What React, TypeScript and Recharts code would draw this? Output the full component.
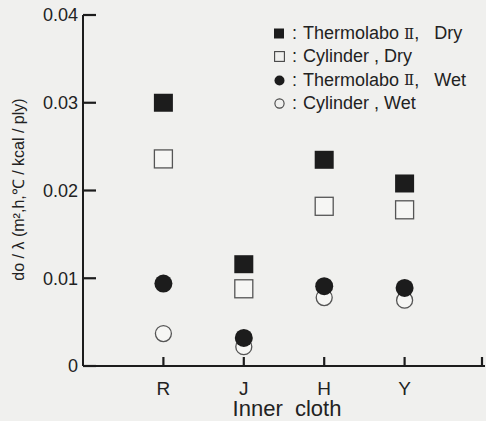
import React from "react";
import { ScatterChart, Scatter, XAxis, YAxis, Legend } from "recharts";

const categories = ["R", "J", "H", "Y"];
const thermolaboDry = [0.03, 0.0116, 0.0235, 0.0208];
const cylinderDry = [0.0236, 0.0088, 0.0182, 0.0178];
const thermolaboWet = [0.0094, 0.0032, 0.0091, 0.0089];
const cylinderWet = [0.0037, 0.0022, 0.0078, 0.0075];
const yTicks = [0, 0.01, 0.02, 0.03, 0.04];
const xTicks = [1, 2, 3, 4, 5];

const INK = "#1c1c1c";
const FONT = "'Liberation Sans', Arial, sans-serif";

const toPoints = (vals: number[]) => vals.map((v, i) => ({ x: i + 1, y: v }));

const series = [
  { name: "Cylinder, Wet", label: ["Cylinder , Wet"], marker: "openCircle", data: cylinderWet },
  { name: "Thermolabo Ⅱ, Wet", label: ["Thermolabo ", "Ⅱ", ",   Wet"], marker: "circle", data: thermolaboWet },
  { name: "Cylinder, Dry", label: ["Cylinder , Dry"], marker: "openSquare", data: cylinderDry },
  { name: "Thermolabo Ⅱ, Dry", label: ["Thermolabo ", "Ⅱ", ",   Dry"], marker: "square", data: thermolaboDry },
];
const legendOrder = ["square", "openSquare", "circle", "openCircle"];

const drawMarker = (kind: string) => (p: any) => {
  const { cx, cy } = p;
  if (kind === "square")
    return <rect x={cx - 9.5} y={cy - 9} width={19} height={18} fill={INK} />;
  if (kind === "openSquare")
    return <rect x={cx - 9} y={cy - 9} width={18} height={18} fill="#f6f6f4" stroke="#555" strokeWidth={1.3} />;
  if (kind === "circle") return <circle cx={cx} cy={cy} r={9} fill={INK} />;
  return <circle cx={cx} cy={cy} r={8} fill="#f6f6f4" stroke="#555" strokeWidth={1.3} />;
};

const LegendIcon = ({ kind }: { kind: string }) => (
  <svg width={11} height={11} style={{ marginRight: 7, flex: "none" }}>
    {kind === "square" && <rect x={0} y={0.5} width={10} height={10} fill={INK} />}
    {kind === "openSquare" && <rect x={0.6} y={0.6} width={9.8} height={9.8} fill="none" stroke="#444" strokeWidth={1.1} />}
    {kind === "circle" && <circle cx={5.5} cy={5.5} r={5} fill={INK} />}
    {kind === "openCircle" && <circle cx={5.5} cy={5.5} r={4.6} fill="none" stroke="#444" strokeWidth={1.1} />}
  </svg>
);

const renderLegend = () => (
  <div style={{ fontFamily: FONT, fontSize: 18, color: "#222" }}>
    {legendOrder.map((k) => {
      const s = series.find((d) => d.marker === k)!;
      return (
        <div key={k} style={{ display: "flex", alignItems: "center", height: 23.3, whiteSpace: "pre" }}>
          <LegendIcon kind={k} />
          <span style={{ marginRight: 6 }}>:</span>
          {s.label.map((part, i) =>
            part === "Ⅱ" ? (
              <span key={i} style={{ fontFamily: "'DejaVu Serif', serif", fontSize: 15 }}>
                {part}
              </span>
            ) : (
              <span key={i}>{part}</span>
            )
          )}
        </div>
      );
    })}
  </div>
);

const YTick = (props: any) => {
  const x = Number(props.x);
  const y = Number(props.y);
  const v = props.payload.value;
  return (
    <g>
      <path d={`M${x + 5},${y}H${x + 18}`} stroke={INK} strokeWidth={2.2} fill="none" />
      <text x={x} y={y} dy="0.35em" textAnchor="end" fontSize={18} fontFamily={FONT} fill="#222">
        {v === 0 ? "0" : v.toFixed(2)}
      </text>
    </g>
  );
};

const XTick = (props: any) => {
  const x = Number(props.x);
  const y = Number(props.y);
  return (
    <g>
      <path d={`M${x},${y - 22}V${y - 31}`} stroke={INK} strokeWidth={2.2} fill="none" />
      <text x={x} y={y} dy="0.35em" textAnchor="middle" fontSize={19} fontFamily={FONT} fill="#222">
        {categories[props.payload.value - 1] ?? ""}
      </text>
    </g>
  );
};

export default function App() {
  return (
    <div
      style={{
        position: "fixed",
        left: 0,
        top: 0,
        width: 486,
        height: 421,
        overflow: "hidden",
        background: "#f0f0ee",
      }}
    >
      <ScatterChart width={486} height={421} margin={{ top: 15, right: 1, bottom: 0, left: 0 }}>
        <XAxis
          type="number"
          dataKey="x"
          domain={[0, 5]}
          ticks={xTicks}
          tick={<XTick />}
          tickLine={false}
          tickSize={0}
          tickMargin={22}
          height={55}
          axisLine={{ stroke: INK, strokeWidth: 2 }}
          label={{
            content: (p: any) => {
              const vb = p.viewBox;
              return (
                <text x={vb.x + vb.width / 2 + 3} y={408} dy="0.35em" textAnchor="middle" fontSize={22} fontFamily={FONT} fill="#222" style={{ whiteSpace: "pre" }}>
                  Inner  cloth
                </text>
              );
            },
          }}
        />
        <YAxis
          type="number"
          dataKey="y"
          domain={[0, 0.04]}
          ticks={yTicks}
          tick={<YTick />}
          tickLine={false}
          tickSize={0}
          tickMargin={5}
          width={83}
          axisLine={{ stroke: INK, strokeWidth: 2 }}
          label={{
            content: (p: any) => {
              const vb = p.viewBox;
              const cx = vb.x + 18;
              const cy = vb.y + vb.height / 2 - 1;
              return (
                <text
                  x={cx}
                  y={cy}
                  transform={`rotate(-90 ${cx} ${cy})`}
                  dy="0.35em"
                  textAnchor="middle"
                  fontSize={16}
                  fontFamily={FONT}
                  fill="#222"
                  style={{ whiteSpace: "pre" }}
                >
                  do / λ (m²,h,℃ / kcal / ply)
                </text>
              );
            },
          }}
        />
        <Legend
          verticalAlign="middle"
          align="center"
          layout="vertical"
          content={renderLegend}
          wrapperStyle={{ position: "absolute", top: 22, left: 274, width: 220 }}
        />
        {series.map((s) => (
          <Scatter
            key={s.name}
            name={s.name}
            data={toPoints(s.data)}
            shape={drawMarker(s.marker)}
            isAnimationActive={false}
          />
        ))}
      </ScatterChart>
    </div>
  );
}
